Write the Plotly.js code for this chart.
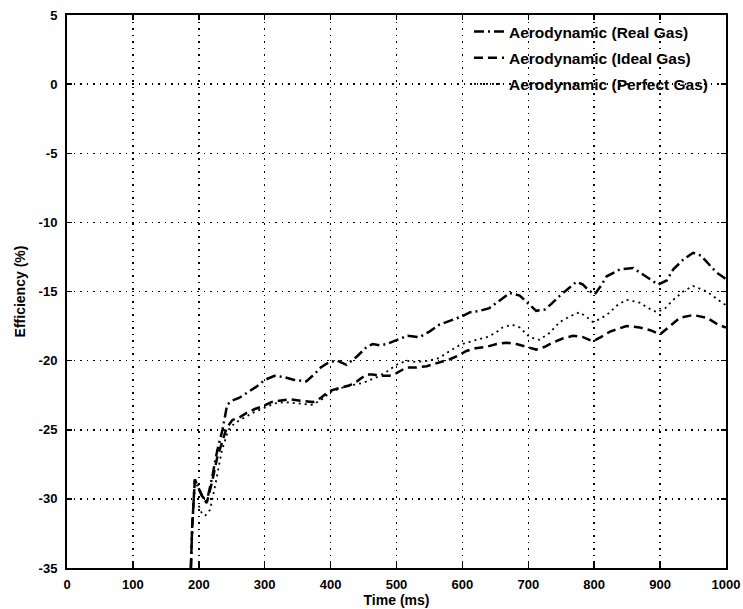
<!DOCTYPE html>
<html>
<head>
<meta charset="utf-8">
<script src="https://cdn.plot.ly/plotly-3.0.1.min.js"></script>
<style>html,body{margin:0;padding:0;background:#fff}#chart{width:743px;height:609px}</style>
</head>
<body>
<div id="chart"></div>
<script>
// Real gas (dash-dot)
const realX = [188,190,194,200,205,212,220,228,236,243,250,261,275,287,300,315,330,345,363,375,385,398,410,424,440,455,464,475,485,500,517,535,550,565,582,599,612,626,641,657,672,687,700,712,725,735,748,758,773,783,791,801,810,819,839,859,880,897,910,920,935,950,962,971,985,994,1000];
const realY = [-35,-32,-28.6,-29.2,-29.8,-30.2,-28.5,-26.5,-25.0,-23.2,-22.9,-22.7,-22.3,-21.9,-21.4,-21.1,-21.2,-21.4,-21.5,-21.0,-20.5,-20.1,-20.0,-20.3,-19.7,-19.0,-18.8,-18.9,-18.8,-18.5,-18.2,-18.3,-17.9,-17.4,-17.1,-16.8,-16.5,-16.4,-16.2,-15.6,-15.1,-15.3,-15.9,-16.4,-16.3,-15.9,-15.3,-14.9,-14.3,-14.5,-14.9,-15.2,-14.6,-13.9,-13.4,-13.3,-14.0,-14.5,-14.2,-13.4,-12.7,-12.2,-12.4,-12.9,-13.6,-13.9,-14.1];
// Ideal gas (dashed)
const idealX = [188,190,194,200,205,212,220,228,236,242,251,262,272,285,297,310,322,340,355,373,385,398,412,428,440,454,464,475,489,500,515,530,546,565,581,595,606,620,637,652,667,682,698,712,725,737,752,768,783,798,810,824,849,869,885,900,915,930,950,971,988,1000];
const idealY = [-35,-32,-28.6,-29.2,-29.8,-30.3,-28.8,-27.0,-25.8,-24.9,-24.3,-24.1,-23.8,-23.5,-23.3,-23.0,-22.9,-22.8,-22.9,-23.0,-22.7,-22.2,-22.0,-21.8,-21.5,-21.0,-21.0,-21.1,-21.1,-20.9,-20.5,-20.5,-20.4,-20.1,-19.9,-19.6,-19.3,-19.1,-19.0,-18.8,-18.7,-18.8,-19.0,-19.2,-19.0,-18.7,-18.4,-18.2,-18.3,-18.6,-18.3,-17.9,-17.5,-17.6,-17.8,-18.1,-17.5,-16.9,-16.7,-16.9,-17.4,-17.6];
// Perfect gas (dotted)
const perfX = [200,205,210,217,225,235,245,255,270,285,300,315,330,350,373,390,398,415,430,450,470,485,500,515,530,550,565,581,595,606,620,637,650,661,675,687,702,717,732,748,763,778,790,798,808,819,835,849,869,882,895,908,920,935,950,971,985,1000];
const perfY = [-30.5,-31.1,-31.2,-30.8,-29.0,-26.5,-25.0,-24.5,-24.1,-23.7,-23.4,-23.1,-23.0,-23.1,-23.2,-22.7,-22.3,-22.0,-21.8,-21.6,-21.2,-20.8,-20.3,-20.0,-20.1,-20.0,-19.8,-19.3,-18.9,-18.7,-18.5,-18.3,-18.0,-17.6,-17.4,-17.6,-18.3,-18.5,-18.0,-17.2,-16.8,-16.5,-16.9,-17.2,-17.0,-16.7,-16.0,-15.6,-15.8,-16.2,-16.5,-16.2,-15.6,-15.0,-14.6,-15.0,-15.5,-16.0];

const names = ['Aerodynamic (Real Gas)','Aerodynamic (Ideal Gas)','Aerodynamic (Perfect Gas)'];
const xTicks = [0,100,200,300,400,500,600,700,800,900,1000];
const yTicks = [5,0,-5,-10,-15,-20,-25,-30,-35];

const fam = '"Liberation Sans", Arial, sans-serif';
const tickFont = {family:fam, size:13, color:'#000', weight:'bold'};
const titleFont = {family:fam, size:14, color:'#000', weight:'bold'};
const legendFont = {family:fam, size:15.5, color:'#000', weight:'bold'};

const traces = [
  {x:realX, y:realY, name:names[0], mode:'lines', legendgroup:'a', line:{color:'#000', width:2.5, dash:'10px,4px,2px,4px'}},
  {x:idealX, y:idealY, name:names[1], mode:'lines', legendgroup:'b', line:{color:'#000', width:2.5, dash:'9px,5px'}},
  {x:perfX, y:perfY, name:names[2], mode:'lines', legendgroup:'c', line:{color:'#000', width:1.8, dash:'2px,4px'}}
];

const axisCommon = {
  showline:true, linecolor:'#000', linewidth:2, mirror:'ticks',
  ticks:'inside', ticklen:5, tickcolor:'#000', tickwidth:1.5,
  showgrid:true, gridcolor:'#000', gridwidth:1.5, griddash:'1.5px,5px',
  zeroline:false, tickfont:tickFont
};

const layout = {
  width:743, height:609,
  margin:{l:67, r:17, t:15, b:41},
  paper_bgcolor:'#fff', plot_bgcolor:'#fff',
  font:tickFont,
  showlegend:true,
  legend:{x:0.610, y:1.0, xanchor:'left', yanchor:'top', bgcolor:'rgba(0,0,0,0)', borderwidth:0, font:legendFont, tracegroupgap:3, itemwidth:30},
  xaxis:Object.assign({}, axisCommon, {range:[0,1000], tickvals:xTicks, ticktext:xTicks.map(String), ticklabelstandoff:3,
    title:{text:'Time (ms)', font:titleFont, standoff:0}}),
  yaxis:Object.assign({}, axisCommon, {range:[-35,5], tickvals:yTicks, ticktext:yTicks.map(String), ticklabelstandoff:5,
    title:{text:'Efficiency (%)', font:titleFont, standoff:10}})
};

Plotly.newPlot('chart', traces, layout, {displayModeBar:false, staticPlot:true});
</script>
</body>
</html>
